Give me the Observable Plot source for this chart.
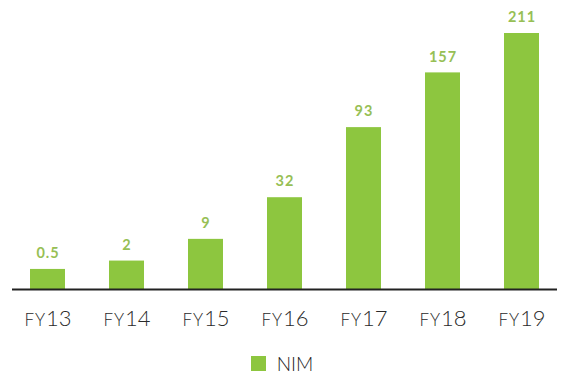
<!DOCTYPE html>
<html>
<head>
<meta charset="utf-8">
<script src="https://cdn.jsdelivr.net/npm/d3@7"></script>
<script src="https://cdn.jsdelivr.net/npm/@observablehq/plot@0.6"></script>
<style>
  html, body { margin: 0; padding: 0; background: #fff; }
  #chart { width: 562px; }
  .legend { display: flex; justify-content: center; align-items: center; height: 37px; font-family: Lato, "Open Sans", sans-serif; font-size: 19px; font-weight: 300; color: #222; padding-left: 2px; }
  .legend .sw { width: 15px; height: 15px; background: #8dc63f; margin-right: 11px; }
</style>
</head>
<body>
<div id="chart"></div>
<script>
const categories = ["FY13", "FY14", "FY15", "FY16", "FY17", "FY18", "FY19"];
const values = [0.5, 2, 9, 32, 93, 157, 211];
const valueLabels = ["0.5", "2", "9", "32", "93", "157", "211"];
const seriesName = "NIM";

const data = categories.map((c, i) => ({cat: c, v: values[i], label: valueLabels[i]}));
const yMin = -1.74;

const plot = Plot.plot({
  width: 562,
  height: 345,
  marginTop: 33,
  marginBottom: 56,
  marginLeft: 12,
  marginRight: 5,
  style: {background: "#fff", fontFamily: "Lato, 'Open Sans', sans-serif"},
  x: {domain: categories, padding: 0.56, paddingOuter: 0.2, label: null},
  y: {type: "pow", exponent: 0.6, domain: [yMin, d3.max(values)], axis: null},
  marks: [
    Plot.rectY(data, {x: "cat", y1: yMin, y2: "v", fill: "#8dc63f"}),
    Plot.ruleY([yMin], {stroke: "#222", strokeWidth: 2}),
    Plot.text(data, {x: "cat", y: "v", text: "label", dy: -16, fill: "#97bf55", fontSize: 14.5, fontWeight: "bold"}),
    Plot.axisX({tickSize: 0, tickPadding: 21, fontSize: 22, fontWeight: 300, fill: "#2a2a2a", label: null})
  ]
});
d3.select(plot).selectAll("g[aria-label='text'] text").style("letter-spacing", "1px");
d3.select(plot).selectAll("g[aria-label='x-axis tick label'] text").each(function() {
  const t = d3.select(this);
  const s = t.text();
  const m = s.match(/^([A-Za-z]+)(.*)$/);
  if (!m) return;
  t.text(null);
  t.append("tspan").attr("font-size", 17).attr("font-weight", 300).style("letter-spacing", "1px").text(m[1]);
  t.append("tspan").text(m[2]);
});
document.getElementById("chart").appendChild(plot);
const lg = document.createElement("div");
lg.className = "legend";
lg.innerHTML = `<span class="sw"></span><span>${seriesName}</span>`;
document.getElementById("chart").appendChild(lg);
</script>
</body>
</html>
